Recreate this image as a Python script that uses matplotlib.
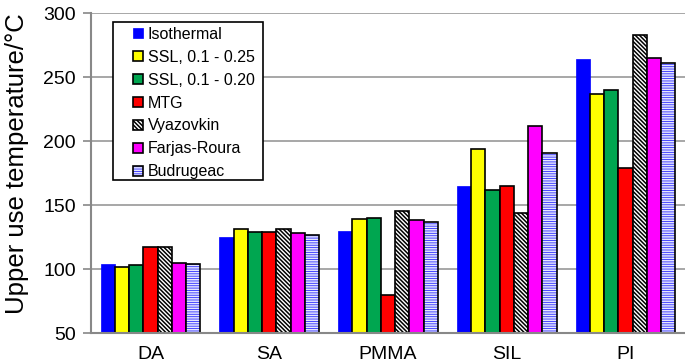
import matplotlib
matplotlib.use("Agg")
import matplotlib.pyplot as plt
from matplotlib.patches import Rectangle
import numpy as np

plt.rcParams["font.family"] = ["Liberation Sans", "DejaVu Sans"]
plt.rcParams["hatch.linewidth"] = 1.1

materials = ["DA", "SA", "PMMA", "SIL", "PI"]
methods = ["Isothermal", "SSL, 0.1 - 0.25", "SSL, 0.1 - 0.20", "MTG",
           "Vyazovkin", "Farjas-Roura", "Budrugeac"]

isothermal = [104, 125, 130, 165, 264]
ssl_025 = [102, 131, 139, 194, 237]
ssl_020 = [103, 129, 140, 162, 240]
mtg = [117, 129, 80, 165, 179]
vyazovkin = [117, 131, 145, 144, 283]
farjas = [105, 128, 138, 212, 265]
budrugeac = [104, 127, 137, 191, 261]

x = np.arange(len(materials))
w = 0.12
offsets = (np.arange(len(methods)) - 3) * w

fig = plt.figure(figsize=(6.85, 3.64), dpi=100)
ax = fig.add_axes([0.133, 0.085, 0.867, 0.879])
ax.set_axisbelow(True)
ax.yaxis.grid(True, color="#a0a0a0", lw=1.3)

handles = []
# Isothermal: plain blue, no black outline
h = ax.bar(x + offsets[0], isothermal, w, color="#0000ff", edgecolor="#0000ff", lw=0.5)
handles.append(h[0])
for vals, off, col in [(ssl_025, offsets[1], "#ffff00"),
                       (ssl_020, offsets[2], "#00a650"),
                       (mtg, offsets[3], "#ff0000")]:
    h = ax.bar(x + off, vals, w, color=col, edgecolor="black", lw=1.2)
    handles.append(h[0])
# Vyazovkin: dense black diagonal hatch on white
h = ax.bar(x + offsets[4], vyazovkin, w, color="white", edgecolor="black",
           hatch="\\" * 8, lw=1.2)
handles.append(h[0])
h = ax.bar(x + offsets[5], farjas, w, color="#ff00ff", edgecolor="black", lw=1.2)
handles.append(h[0])
# Budrugeac: blue with white horizontal lines
hb = ax.bar(x + offsets[6], budrugeac, w, color="#3030ff", edgecolor="#e6e6ff",
            hatch="-------", lw=0)
ho = ax.bar(x + offsets[6], budrugeac, w, fill=False, edgecolor="black", lw=1.2)
handles.append((hb[0], ho[0]))

ax.set_xlim(-0.5, 4.5)
ax.set_ylim(50, 300)
ax.set_yticks(range(50, 301, 50))
ax.set_xticks(x)
ax.set_xticklabels(materials, fontsize=14)
ax.tick_params(axis="x", length=0, pad=9)
ax.tick_params(axis="y", labelsize=14, length=6, width=1.2, color="#888888",
               direction="out", pad=5)
ax.set_ylabel("Upper use temperature/°C", fontsize=18.5)
ax.yaxis.set_label_coords(-0.105, 0.53)
for s in ["top", "right"]:
    ax.spines[s].set_visible(False)
for s in ["left", "bottom"]:
    ax.spines[s].set_color("#888888")
    ax.spines[s].set_linewidth(1.5)

# legend box drawn separately so the side padding can be wider than the top
ax.add_patch(Rectangle((0.037, 0.478), 0.253, 0.494, transform=ax.transAxes,
                       facecolor="white", edgecolor="black", lw=1.2, zorder=4.5))
ax.legend(handles, methods, loc="upper left", bbox_to_anchor=(0.07, 0.958),
          fontsize=11.5, frameon=False, handlelength=0.65, handleheight=0.65,
          handletextpad=0.3, labelspacing=0.5, borderpad=0, borderaxespad=0)

fig.savefig("out.png", dpi=100)
